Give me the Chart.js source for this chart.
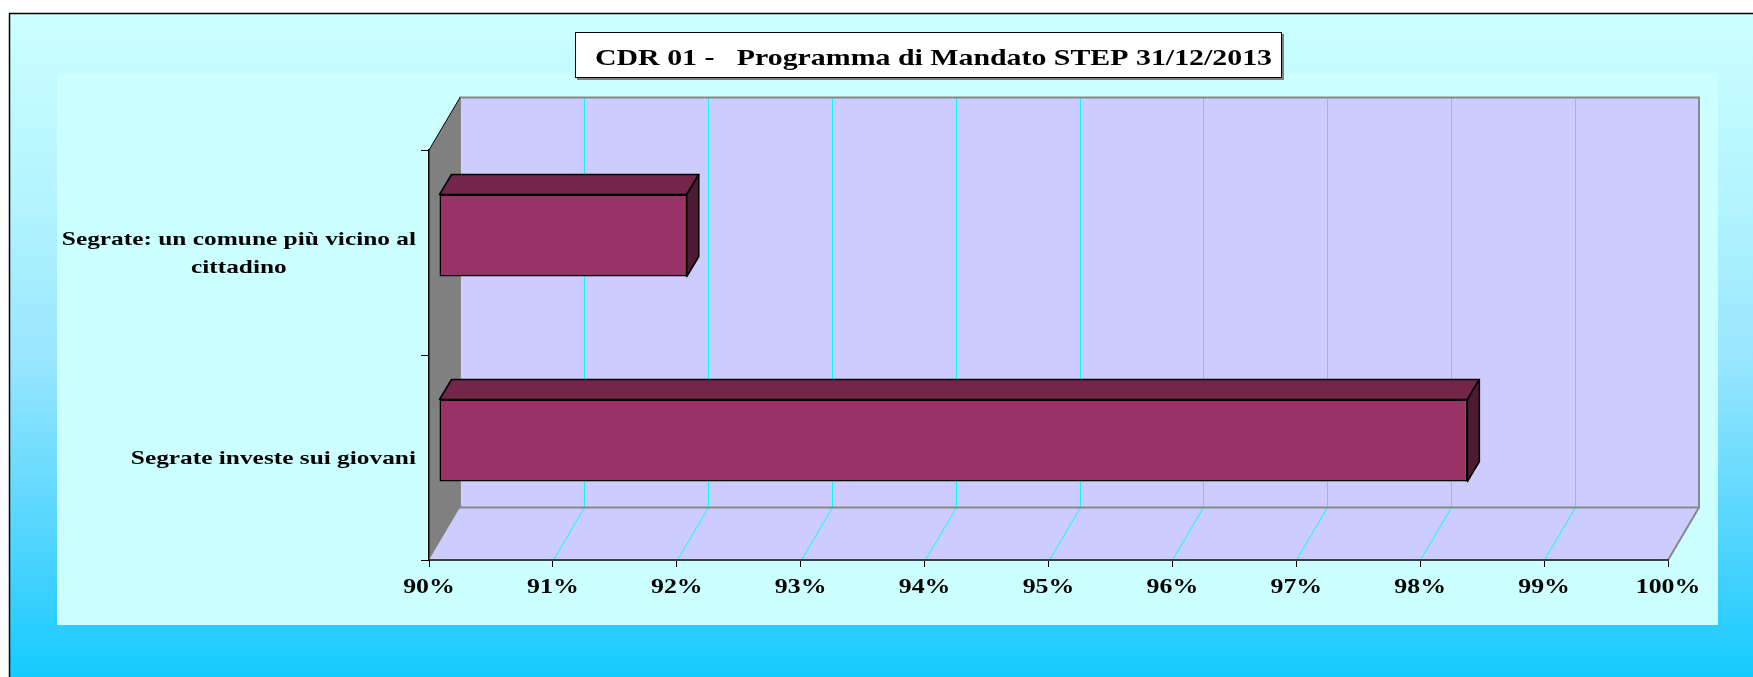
<!DOCTYPE html>
<html><head><meta charset="utf-8">
<script src="https://cdn.jsdelivr.net/npm/chart.js@4.4.0/dist/chart.umd.min.js"></script>
<style>html,body{margin:0;padding:0;background:#fff;overflow:hidden}#wrap{position:relative;width:1753px;height:677px}</style>
</head><body><div id="wrap"><canvas id="c"></canvas></div>
<script>
// ---- data ----
const chartTitle = 'CDR 01 -   Programma di Mandato STEP 31/12/2013';
const categories = [['Segrate: un comune più vicino al', 'cittadino'], ['Segrate investe sui giovani']];
const values = [92.0, 98.3];
const xTickLabels = ['90%', '91%', '92%', '93%', '94%', '95%', '96%', '97%', '98%', '99%', '100%'];
const xMin = 90, xMax = 100;

// ---- style ----
const DEPTH = {dx: 31, dy: -52.5};
const BAR_OFF = {dx: 10, dy: -17};
const BAR_DEPTH = {dx: 12, dy: -20};
const SERIF = '"Liberation Serif", "Times New Roman", serif';
const X_FONT = 21, X_STRETCH = 1.23;
const Y_FONT = 19.5, Y_STRETCH = 1.3, Y_LINE = 28;

function stretchedText(c, s, x, y, sx) {
  c.save(); c.translate(x, y); c.scale(sx, 1); c.fillText(s, 0, 0); c.restore();
}

const threeD = {
  id: 'threeD',
  beforeDraw(chart) {
    const ctx = chart.ctx, W = chart.width, H = chart.height;
    ctx.save();
    ctx.fillStyle = '#fff'; ctx.fillRect(0, 0, W, H);
    const g = ctx.createLinearGradient(0, 13, 0, H);
    g.addColorStop(0, '#ccffff'); g.addColorStop(0.28, '#b3f4ff');
    g.addColorStop(0.52, '#99e6ff'); g.addColorStop(0.87, '#3dd0ff'); g.addColorStop(1, '#12ccff');
    ctx.fillStyle = g; ctx.fillRect(9, 13, W - 9, H - 13);
    ctx.strokeStyle = '#000'; ctx.lineWidth = 1.5;
    ctx.beginPath(); ctx.moveTo(9.5, H); ctx.lineTo(9.5, 13.5); ctx.lineTo(W, 13.5); ctx.stroke();
    ctx.fillStyle = '#ccffff'; ctx.fillRect(57, 73, 1661, 552);

    // title box
    ctx.fillStyle = '#7f7f7f'; ctx.fillRect(577, 34, 707, 46);
    ctx.fillStyle = '#fff'; ctx.fillRect(575, 32, 707, 46);
    ctx.strokeStyle = '#000'; ctx.lineWidth = 1; ctx.strokeRect(575.5, 32.5, 706, 45);
    ctx.font = 'bold 23.4px ' + SERIF;
    const w0 = ctx.measureText(chartTitle).width;
    ctx.fillStyle = '#000'; ctx.textAlign = 'left'; ctx.textBaseline = 'alphabetic';
    stretchedText(ctx, chartTitle, 595, 64.5, 677 / w0);

    // walls
    const xs = chart.scales.x, ys = chart.scales.y;
    const L = xs.getPixelForValue(xMin), R = xs.getPixelForValue(xMax);
    const T = ys.top, B = ys.bottom, dx = DEPTH.dx, dy = DEPTH.dy;
    ctx.fillStyle = '#ccccff';
    ctx.fillRect(L + dx, T + dy, R - L, B - T);
    ctx.beginPath(); ctx.moveTo(L, B); ctx.lineTo(L + dx, B + dy); ctx.lineTo(R + dx, B + dy); ctx.lineTo(R, B); ctx.closePath(); ctx.fill();
    ctx.strokeStyle = '#00ffff'; ctx.lineWidth = 1;
    xs.ticks.forEach(t => {
      if (t.value <= xMin || t.value >= xMax) return;
      const p = Math.round(xs.getPixelForValue(t.value)) + 0.5;
      ctx.beginPath(); ctx.moveTo(p + dx, T + dy); ctx.lineTo(p + dx, B + dy); ctx.stroke();
      ctx.beginPath(); ctx.moveTo(p, B); ctx.lineTo(p + dx, B + dy); ctx.stroke();
    });
    ctx.strokeStyle = '#888'; ctx.lineWidth = 2;
    ctx.strokeRect(L + dx, T + dy, R - L, B - T);
    ctx.beginPath(); ctx.moveTo(R + dx, B + dy); ctx.lineTo(R, B); ctx.stroke();
    ctx.fillStyle = '#808080';
    ctx.beginPath(); ctx.moveTo(L, T); ctx.lineTo(L + dx, T + dy); ctx.lineTo(L + dx, B + dy); ctx.lineTo(L, B); ctx.closePath(); ctx.fill();
    ctx.strokeStyle = '#000'; ctx.lineWidth = 1;
    ctx.beginPath(); ctx.moveTo(L, T); ctx.lineTo(L + dx, T + dy); ctx.stroke();
    ctx.restore();

    // tick label rendering (stretched serif text, like the original)
    xs.drawLabels = function () {
      const c = this.ctx;
      c.save();
      c.font = 'bold ' + X_FONT + 'px ' + SERIF;
      c.fillStyle = '#000'; c.textAlign = 'center'; c.textBaseline = 'alphabetic';
      this.ticks.forEach((t, i) => stretchedText(c, t.label, this.getPixelForTick(i), this.top + 33.3, X_STRETCH));
      c.restore();
    };
    ys.drawLabels = function () {
      const c = this.ctx;
      c.save();
      c.font = 'bold ' + Y_FONT + 'px ' + SERIF;
      c.fillStyle = '#000'; c.textBaseline = 'middle'; c.textAlign = 'center';
      this.ticks.forEach((t, i) => {
        const lines = Array.isArray(t.label) ? t.label : [t.label];
        const y = this.getPixelForTick(i);
        const bw = Math.max(...lines.map(s => c.measureText(s).width)) * Y_STRETCH;
        const cx = this.right - 13 - bw / 2;
        lines.forEach((s, j) => stretchedText(c, s, cx, y + 1 + (j - (lines.length - 1) / 2) * Y_LINE, Y_STRETCH));
      });
      c.restore();
    };
  },
  beforeDatasetsDraw(chart) {
    chart.ctx.save();
    chart.ctx.translate(BAR_OFF.dx, BAR_OFF.dy);
  },
  afterDatasetsDraw(chart) {
    const ctx = chart.ctx;
    const meta = chart.getDatasetMeta(0);
    const bdx = BAR_DEPTH.dx, bdy = BAR_DEPTH.dy;
    meta.data.forEach(el => {
      const p = el.getProps(['x', 'y', 'base', 'height'], true);
      const l = Math.min(p.base, p.x), r = Math.max(p.base, p.x), t = p.y - p.height / 2, b = p.y + p.height / 2;
      ctx.lineWidth = 1.5; ctx.strokeStyle = '#000'; ctx.lineJoin = 'round';
      ctx.fillStyle = '#732649';
      ctx.beginPath(); ctx.moveTo(l, t); ctx.lineTo(l + bdx, t + bdy); ctx.lineTo(r + bdx, t + bdy); ctx.lineTo(r, t); ctx.closePath(); ctx.fill(); ctx.stroke();
      ctx.fillStyle = '#4d1a33';
      ctx.beginPath(); ctx.moveTo(r, t); ctx.lineTo(r + bdx, t + bdy); ctx.lineTo(r + bdx, b + bdy); ctx.lineTo(r, b); ctx.closePath(); ctx.fill(); ctx.stroke();
    });
    ctx.restore();
  }
};

new Chart(document.getElementById('c'), {
  type: 'bar',
  data: {
    labels: categories,
    datasets: [{
      data: values,
      base: xMin,
      backgroundColor: '#993366',
      borderColor: '#000',
      borderWidth: 1.5,
      borderSkipped: false,
      barPercentage: 0.4,
      categoryPercentage: 1.0
    }]
  },
  options: {
    indexAxis: 'y',
    responsive: true,
    maintainAspectRatio: false,
    devicePixelRatio: 1,
    animation: false,
    layout: {padding: {left: 0, right: 85, top: 150, bottom: 0}},
    plugins: {legend: {display: false}, title: {display: false}, tooltip: {enabled: false}},
    scales: {
      x: {
        type: 'linear', min: xMin, max: xMax,
        ticks: {
          stepSize: 1, autoSkip: false, maxRotation: 0, color: '#000', padding: 7,
          font: {family: SERIF, size: X_FONT, weight: 'bold'},
          callback: (v, i) => xTickLabels[i]
        },
        grid: {drawOnChartArea: false, drawTicks: true, tickLength: 7, color: '#000', lineWidth: 1},
        border: {display: true, color: '#404040', width: 2},
        afterFit: s => { s.height = 117; }
      },
      y: {
        type: 'category',
        ticks: {color: '#000', font: {family: SERIF, size: Y_FONT, weight: 'bold'}},
        grid: {offset: true, drawOnChartArea: false, drawTicks: true, tickLength: 8, color: '#000', lineWidth: 1},
        border: {display: true, color: '#000', width: 1.5},
        afterFit: s => { s.width = 429; }
      }
    }
  },
  plugins: [threeD]
});
</script>
</body></html>
